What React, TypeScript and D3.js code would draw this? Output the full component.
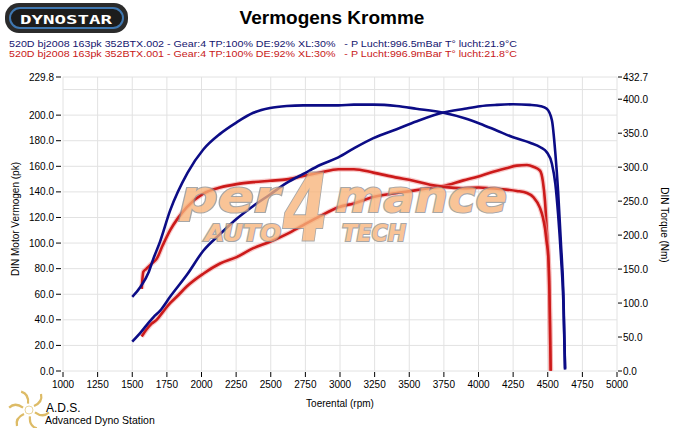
import * as d3 from 'd3';
import { useEffect } from 'react';

// run .002 (blue) and .001 (red), power in pk, torque in Nm
const blueRpm = [1500, 1560, 1620, 1652, 1700, 1773, 1900, 2013, 2134, 2254, 2374, 2495, 2615, 2735, 2856, 2988, 3100, 3241, 3409, 3550, 3746, 3900, 4011, 4131, 4250, 4372, 4450, 4493, 4530, 4555, 4575, 4595, 4613, 4625];
const bluePower = [23, 30, 38, 42, 47, 58, 76, 94, 107, 119, 129, 138, 147, 154, 161, 167, 174, 182, 189, 195, 202, 205, 207, 208, 208.5, 208, 207, 205, 196, 170, 140, 100, 60, 2];
const blueTorque = [109, 124, 146, 165, 190, 236, 292, 326, 349, 366, 380, 387, 390, 391, 391, 391, 392, 392, 390, 386, 380, 372, 364, 354, 344, 336, 329, 322, 305, 275, 230, 170, 100, 2];

const redRpm = [1568, 1580, 1600, 1640, 1676, 1720, 1773, 1830, 1893, 2013, 2134, 2254, 2374, 2495, 2615, 2735, 2856, 2988, 3100, 3241, 3400, 3530, 3650, 3746, 3891, 4000, 4083, 4200, 4276, 4350, 4396, 4444, 4465, 4480, 4492, 4504, 4512, 4516, 4521];
const redPower = [27, 29, 32, 37, 40, 46, 53, 59, 66, 76, 84, 89, 96, 101, 107, 114, 121, 128, 131, 136, 139, 141, 143, 144.5, 149, 152, 155, 158.5, 160.5, 161, 159.7, 156.6, 148, 133, 112, 89, 60, 37, 0];
const redTorque = [121, 146, 150, 158, 165, 185, 207, 225, 241, 261, 270, 275, 278, 280, 282, 287, 292, 297, 297, 292, 285, 280, 274, 271, 269, 270, 269, 267, 265, 262, 256, 240, 226, 210, 190, 168, 120, 70, 1];

const rpmTicks = d3.range(1000, 5001, 250);
const pkTicks = d3.range(0, 201, 20);
const pkGrid = d3.range(0, 221, 20);
const nmTicks = d3.range(0, 401, 50);
const pkMax = 229.8;
const nmMax = 432.7;

const legendLines = [
  { text: '520D bj2008 163pk 352BTX.002 - Gear:4 TP:100% DE:92% XL:30%   - P Lucht:996.5mBar T° lucht:21.9°C', color: '#14146e' },
  { text: '520D bj2008 163pk 352BTX.001 - Gear:4 TP:100% DE:92% XL:30%   - P Lucht:996.9mBar T° lucht:21.8°C', color: '#c81818' },
];

const W = 685;
const H = 428;
const M = { left: 63, right: 617, top: 77, bottom: 371 };
const font = 'Liberation Sans, Arial, sans-serif';
const BLUE = '#0c0c86';
const RED = '#cc1a1a';

export default function App() {
  useEffect(() => {
    document.body.style.margin = '0';
  }, []);

  const x = d3.scaleLinear().domain([1000, 5000]).range([M.left, M.right]);
  const yPk = d3.scaleLinear().domain([0, pkMax]).range([M.bottom, M.top]);
  const yNm = d3.scaleLinear().domain([0, nmMax]).range([M.bottom, M.top]);

  const linePk = (rpm: number[]) =>
    d3.line<number>().x((_, i) => x(rpm[i])).y(d => yPk(d)).curve(d3.curveMonotoneX);
  const lineNm = (rpm: number[]) =>
    d3.line<number>().x((_, i) => x(rpm[i])).y(d => yNm(d)).curve(d3.curveMonotoneX);

  const redPaths = [linePk(redRpm)(redPower), lineNm(redRpm)(redTorque)];
  const bluePaths = [linePk(blueRpm)(bluePower), lineNm(blueRpm)(blueTorque)];

  return (
    <svg width={W} height={H} style={{ display: 'block', background: '#fff', fontFamily: font }}>
      {/* Dynostar logo */}
      <g>
        <rect x={5} y={3} width={123} height={30} rx={14} fill="#2b2b2b" />
        <rect x={10} y={8} width={113} height={20} rx={10} fill="#1c1c1c" stroke="#3f77b0" strokeWidth={2} />
        <text x={66} y={23.5} textAnchor="middle" fill="#fff" fontSize={13} fontWeight="bold"
          fontFamily="DejaVu Sans Mono, monospace" textLength={92} lengthAdjust="spacingAndGlyphs">DYNOSTAR</text>
      </g>

      <text x={332} y={24} textAnchor="middle" fontSize={19} fontWeight="bold" fill="#000">Vermogens Kromme</text>

      {legendLines.map((l, i) => (
        <text key={i} x={9} y={47 + i * 9.5} fontSize={9.5} fill={l.color} textLength={508} lengthAdjust="spacingAndGlyphs"
          style={{ whiteSpace: 'pre' }}>{l.text}</text>
      ))}

      {/* grid */}
      <g stroke="#e2e2e2" strokeWidth={1}>
        {rpmTicks.map(t => (
          <line key={t} x1={x(t)} x2={x(t)} y1={M.top} y2={M.bottom} />
        ))}
        {pkGrid.map(t => (
          <line key={t} x1={M.left} x2={M.right} y1={yPk(t)} y2={yPk(t)} />
        ))}
        <line x1={M.left} x2={M.right} y1={yPk(pkMax)} y2={yPk(pkMax)} />
      </g>

      {/* left axis */}
      <g fontSize={10} fill="#000" textAnchor="end">
        {[...pkTicks, pkMax].map(t => (
          <g key={t}>
            <line x1={M.left - 7} x2={M.left - 2} y1={yPk(t)} y2={yPk(t)} stroke="#000" />
            <text x={M.left - 9} y={yPk(t) + 3.5}>{t.toFixed(1)}</text>
          </g>
        ))}
      </g>
      {/* right axis */}
      <g fontSize={10} fill="#000">
        {[...nmTicks, nmMax].map(t => (
          <g key={t}>
            <line x1={M.right + 1} x2={M.right + 5} y1={yNm(t)} y2={yNm(t)} stroke="#000" />
            <text x={M.right + 6} y={yNm(t) + 3.5}>{t.toFixed(1)}</text>
          </g>
        ))}
      </g>
      {/* bottom axis */}
      <g fontSize={10} fill="#000" textAnchor="middle">
        {rpmTicks.map(t => (
          <g key={t}>
            <line x1={x(t)} x2={x(t)} y1={M.bottom + 1} y2={M.bottom + 6} stroke="#000" />
            <text x={x(t)} y={M.bottom + 17}>{t}</text>
          </g>
        ))}
      </g>

      <text x={340} y={407} textAnchor="middle" fontSize={10}>Toerental (rpm)</text>
      <text transform="translate(19,219) rotate(-90)" textAnchor="middle" fontSize={10}>DIN Motor Vermogen (pk)</text>
      <text transform="translate(661,225) rotate(90)" textAnchor="middle" fontSize={10}>DIN Torque (Nm)</text>

      {/* curves */}
      {redPaths.map((d, i) => (
        <g key={'r' + i}>
          <path d={d ?? ''} fill="none" stroke="#f3a8a8" strokeWidth={5} opacity={0.6} />
          <path d={d ?? ''} fill="none" stroke={RED} strokeWidth={2.6} />
        </g>
      ))}
      {bluePaths.map((d, i) => (
        <path key={'b' + i} d={d ?? ''} fill="none" stroke={BLUE} strokeWidth={2.6} />
      ))}

      {/* watermark, one text element */}
      <text opacity={0.78} fill="#f8b47a" stroke="#8f8f8f" strokeWidth={2.2} fontFamily="DejaVu Sans, sans-serif"
        fontWeight="bold" fontStyle="italic" style={{ paintOrder: 'stroke' }}>
        <tspan x={180} y={212} fontSize={44} textLength={100} lengthAdjust="spacingAndGlyphs">per</tspan>
        <tspan x={283} y={240} fontSize={92} textLength={45} lengthAdjust="spacingAndGlyphs">4</tspan>
        <tspan x={335} y={212} fontSize={44} textLength={172} lengthAdjust="spacingAndGlyphs">mance</tspan>
        <tspan x={205} y={241} fontSize={23} textLength={76} lengthAdjust="spacingAndGlyphs">AUTO</tspan>
        <tspan x={342} y={241} fontSize={23} textLength={64} lengthAdjust="spacingAndGlyphs">TECH</tspan>
      </text>

      {/* ADS logo */}
      <g transform="translate(29,410)" fill="none" stroke="#d8b04c" strokeWidth={2.2} opacity={0.85}>
        {d3.range(6).map(i => (
          <path key={i} transform={`rotate(${i * 60})`} d="M 5 -4 Q 14 -8 12 -16" />
        ))}
        <circle r={4} stroke="#e6cf8a" strokeWidth={1} />
      </g>
      <text x={46} y={412} fontSize={12} fill="#000">A.D.S.</text>
      <text x={45} y={424} fontSize={10.5} fill="#000">Advanced Dyno Station</text>
    </svg>
  );
}
